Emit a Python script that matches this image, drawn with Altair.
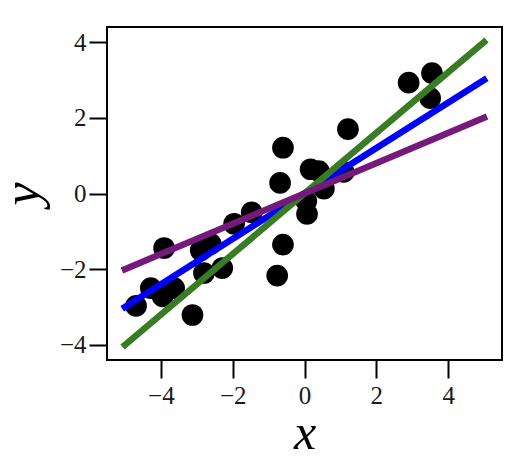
import altair as alt
import pandas as pd

# scatter points
pt_x = [-4.69, -4.28, -3.95, -3.63, -3.91, -3.12, -2.89, -2.61, -2.80, -2.29,
        -1.96, -1.47, -0.68, -0.60, -0.60, -0.76, 0.07, 0.05, 0.17, 0.40,
        0.54, 1.09, 1.21, 2.90, 3.55, 3.50]
pt_y = [-2.97, -2.50, -2.72, -2.50, -1.44, -3.21, -1.50, -1.33, -2.10, -1.97,
        -0.80, -0.50, 0.28, 1.21, -1.35, -2.17, -0.54, -0.20, 0.64, 0.59,
        0.13, 0.57, 1.70, 2.93, 3.18, 2.52]

# fitted lines
line_x = [-5.0, 5.0]
green_y = [-4.0, 4.0]
blue_y = [-3.0, 3.0]
purple_y = [-2.0, 2.0]

pts = pd.DataFrame({"x": pt_x, "y": pt_y})

xs = alt.Scale(domain=[-5.5, 5.5], nice=False, zero=False)
ys = alt.Scale(domain=[-4.4, 4.4], nice=False, zero=False)

W, H = 395, 333
FONT = "Liberation Serif"

xaxis = alt.Axis(values=[-4, -2, 0, 2, 4], title="x", domain=False, grid=False,
                 tickSize=18, tickWidth=2, tickColor="black",
                 labelFont=FONT, labelFontSize=25, labelColor="#1a1a1a", labelPadding=5,
                 titleFont=FONT, titleFontStyle="italic", titleFontWeight="normal",
                 titleFontSize=50, titleColor="black", titleY=88, titleX=W / 2,
                 titleBaseline="alphabetic", titleAlign="center")
yaxis = alt.Axis(values=[-4, -2, 0, 2, 4], title="y", domain=False, grid=False,
                 tickSize=18, tickWidth=2, tickColor="black",
                 labelFont=FONT, labelFontSize=25, labelColor="#1a1a1a", labelPadding=3,
                 titleFont=FONT, titleFontStyle="italic", titleFontWeight="normal",
                 titleFontSize=52, titleColor="black", titleX=-69, titleY=H / 2,
                 titleAngle=270, titleBaseline="alphabetic", titleAlign="center")

points = alt.Chart(pts).mark_circle(size=470, color="black", opacity=1).encode(
    x=alt.X("x:Q", scale=xs, axis=xaxis),
    y=alt.Y("y:Q", scale=ys, axis=yaxis),
)

def line(yvals, color):
    df = pd.DataFrame({"x": line_x, "y": yvals})
    return alt.Chart(df).mark_line(color=color, strokeWidth=6.5, strokeCap="square").encode(
        x=alt.X("x:Q", scale=xs),
        y=alt.Y("y:Q", scale=ys),
    )

chart = alt.layer(
    points,
    line(blue_y, "#0000ff"),
    line(green_y, "#387c23"),
    line(purple_y, "#741a7b"),
).properties(
    width=W, height=H,
    autosize=alt.AutoSizeParams(type="none"),
    padding={"left": 99, "top": 19, "right": 18, "bottom": 100},
).configure_view(stroke="black", strokeWidth=2)

chart.save("out.html", embed_options={"renderer": "svg", "actions": False})
